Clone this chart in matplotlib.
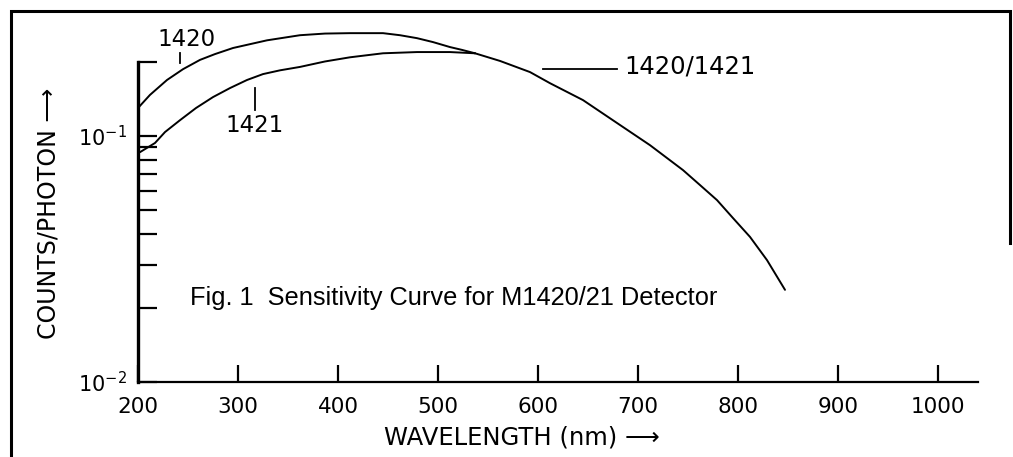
import matplotlib
matplotlib.use("Agg")
import matplotlib.pyplot as plt
from matplotlib.lines import Line2D
from matplotlib.ticker import LogLocator, NullFormatter, FixedLocator

# ---- data ----
wl_1420 = [200, 212, 229, 245, 262, 277, 295, 329, 362, 387, 412, 445, 462, 479,
           495, 512, 524, 537]
cp_1420 = [0.130, 0.147, 0.169, 0.187, 0.204, 0.2154, 0.228, 0.245, 0.257, 0.261,
           0.262, 0.262, 0.257, 0.250, 0.241, 0.230, 0.224, 0.217]
wl_1421 = [202, 217, 227, 242, 258, 275, 292, 309, 325, 342, 362, 387, 412, 445,
           479, 512, 537]
cp_1421 = [0.086, 0.0937, 0.1038, 0.116, 0.130, 0.144, 0.1567, 0.169, 0.1786,
           0.185, 0.191, 0.201, 0.209, 0.217, 0.2195, 0.2195, 0.217]
wl_shared = [537, 562, 592, 612, 645, 679, 712, 745, 762, 779, 795, 812, 829, 847]
cp_shared = [0.217, 0.202, 0.182, 0.164, 0.140, 0.113, 0.0918, 0.0727, 0.0632,
             0.0549, 0.0464, 0.0389, 0.0313, 0.0237]
x_ticks = [200, 300, 400, 500, 600, 700, 800, 900, 1000]
x_min, x_max = 200, 1040
y_min, y_max = 0.01, 0.2

W, H = 1013, 457
fig = plt.figure(figsize=(W / 100, H / 100), dpi=100)

def fx(px):
    return px / W

def fy(py):
    return 1 - py / H

ax_l, ax_r, ax_t, ax_b = 138, 978, 62, 382
ax = fig.add_axes([fx(ax_l), fy(ax_b), fx(ax_r - ax_l), (ax_b - ax_t) / H])
ax.set_yscale("log")
ax.set_xlim(x_min, x_max)
ax.set_ylim(y_min, y_max)

lw_curve = 1.4
for xs, ys in ((wl_1420, cp_1420), (wl_1421, cp_1421), (wl_shared, cp_shared)):
    ax.plot(xs, ys, color="black", lw=lw_curve, clip_on=False,
            solid_capstyle="round", solid_joinstyle="round")

for s in ("top", "right"):
    ax.spines[s].set_visible(False)
ax.spines["left"].set_linewidth(2.4)
ax.spines["bottom"].set_linewidth(1.6)

ax.xaxis.set_major_locator(FixedLocator(x_ticks))
ax.tick_params(axis="x", direction="in", length=12, width=1.6, pad=11,
               labelsize=15.5)
ax.yaxis.set_major_locator(LogLocator(base=10, numticks=5))
ax.yaxis.set_minor_locator(LogLocator(base=10, subs=range(2, 10), numticks=10))
ax.yaxis.set_minor_formatter(NullFormatter())
ax.tick_params(axis="y", which="both", direction="in", length=14, width=1.6,
               pad=8, labelsize=15)

# axis labels
fig.text(fx(522), fy(438), "WAVELENGTH (nm) \u27f6", ha="center", va="center",
         fontsize=17.5, family="DejaVu Sans")
fig.text(fx(48), fy(213), "COUNTS/PHOTON \u27f6", ha="center", va="center",
         rotation=90, fontsize=17, family="DejaVu Sans")

# caption
fig.text(fx(190), fy(298), "Fig. 1  Sensitivity Curve for M1420/21 Detector",
         ha="left", va="center", fontsize=18.3, family="Liberation Sans")

# curve labels
fig.text(fx(187), fy(40), "1420", ha="center", va="center", fontsize=16.5)
fig.add_artist(Line2D([fx(180), fx(180)], [fy(53), fy(63)], color="black", lw=1.3))
fig.text(fx(255), fy(126), "1421", ha="center", va="center", fontsize=16.5)
fig.add_artist(Line2D([fx(255), fx(255)], [fy(88), fy(110)], color="black", lw=1.3))
fig.add_artist(Line2D([fx(543), fx(617)], [fy(69), fy(69)], color="black", lw=1.3))
fig.text(fx(624), fy(66), "1420/1421", ha="left", va="center", fontsize=17.5)

# outer frame
fig.add_artist(Line2D([fx(11), fx(11), fx(1010), fx(1010)],
                      [fy(457), fy(11), fy(11), fy(243)],
                      color="black", lw=2.2, solid_joinstyle="miter"))

fig.savefig("out.png", dpi=100, facecolor="white")
